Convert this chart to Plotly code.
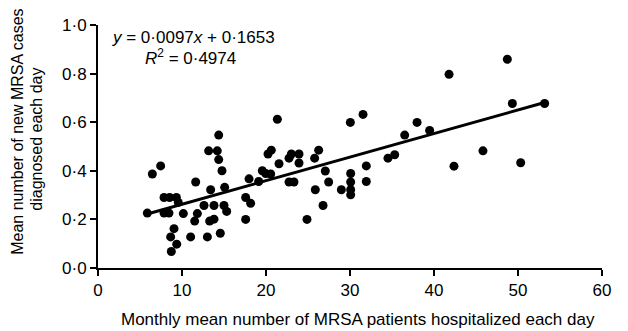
import plotly.graph_objects as go

# Monthly mean number of MRSA patients hospitalized each day
x_vals = [5.87, 6.47, 7.46, 7.86, 8.53, 9.33, 9.56, 7.86, 8.45, 10.16,
          11.63, 13.41, 15.08, 12.62, 13.81, 15.00, 15.32, 11.83, 11.51, 13.29,
          13.81, 9.05, 8.65, 9.37, 8.73, 11.03, 13.02, 14.56, 13.17, 14.20,
          14.37, 14.37, 14.76, 17.58, 18.17, 17.58, 17.98, 19.13, 19.56, 19.96,
          20.56, 20.24, 20.63, 21.55, 21.35, 22.74, 23.02, 23.93, 23.93, 22.74,
          23.33, 25.79, 26.27, 27.06, 27.46, 25.87, 26.79, 24.88, 28.97, 30.08,
          30.08, 30.08, 30.08, 30.04, 31.55, 31.94, 31.94, 34.52, 35.32, 36.51,
          37.98, 39.48, 41.79, 42.38, 45.83, 48.73, 49.33, 50.32, 53.17]
# Mean number of new MRSA cases diagnosed each day
y_vals = [0.226, 0.387, 0.420, 0.290, 0.290, 0.290, 0.270, 0.226, 0.226, 0.224,
          0.354, 0.322, 0.332, 0.257, 0.257, 0.257, 0.233, 0.224, 0.193, 0.193,
          0.201, 0.162, 0.128, 0.098, 0.068, 0.128, 0.128, 0.143, 0.482, 0.482,
          0.547, 0.446, 0.400, 0.290, 0.266, 0.200, 0.367, 0.356, 0.400, 0.389,
          0.387, 0.469, 0.485, 0.429, 0.612, 0.452, 0.469, 0.469, 0.432, 0.354,
          0.354, 0.452, 0.485, 0.399, 0.354, 0.322, 0.257, 0.200, 0.322, 0.389,
          0.354, 0.322, 0.301, 0.599, 0.632, 0.420, 0.356, 0.452, 0.466, 0.547,
          0.599, 0.566, 0.797, 0.419, 0.482, 0.859, 0.677, 0.433, 0.677]

slope = 0.0097
intercept = 0.1653
r_squared = 0.4974

x_ticks = [0, 10, 20, 30, 40, 50, 60]
y_ticks = [0.0, 0.2, 0.4, 0.6, 0.8, 1.0]
y_tick_labels = ["0·0", "0·2", "0·4", "0·6", "0·8", "1·0"]

line_x = [min(x_vals), max(x_vals)]
line_y = [slope * v + intercept for v in line_x]

FONT = "Liberation Sans, Arial, Helvetica, sans-serif"
FS = 17

fig = go.Figure()
fig.add_trace(go.Scatter(x=line_x, y=line_y, mode="lines",
                         line=dict(color="black", width=3), showlegend=False,
                         hoverinfo="skip"))
fig.add_trace(go.Scatter(x=x_vals, y=y_vals, mode="markers",
                         marker=dict(color="black", size=9), showlegend=False))

axis_common = dict(showgrid=False, zeroline=False, showline=True,
                   linecolor="black", linewidth=2, ticks="outside",
                   ticklen=6, tickwidth=2, tickcolor="black",
                   ticklabeloverflow="allow",
                   tickfont=dict(family=FONT, size=FS, color="black"))

fig.update_xaxes(range=[0, 60], tickvals=x_ticks,
                 ticktext=[str(t) for t in x_ticks], **axis_common)
fig.update_yaxes(range=[0, 1.0], tickvals=y_ticks, ticktext=y_tick_labels,
                 **axis_common)

eq_text = "<i>y</i> = 0·0097<i>x</i> + 0·1653"
r2_text = "<i>R</i><sup>2</sup> = 0·4974"

ann_font = dict(family=FONT, size=FS, color="black")
ytitle_font = dict(family=FONT, size=16, color="black")
# The page body has an 8 px margin, so the figure is 8 px smaller and
# its margins 8 px tighter on the left/top.
fig.update_layout(
    width=620, height=323,
    margin=dict(l=90, r=26, t=8, b=63),
    paper_bgcolor="white", plot_bgcolor="white",
    font=dict(family=FONT, size=FS, color="black"),
    annotations=[
        dict(text=eq_text, xref="paper", yref="paper", x=0.1885, y=0.948,
             xanchor="center", yanchor="middle", showarrow=False, font=ann_font),
        dict(text=r2_text, xref="paper", yref="paper", x=0.1845, y=0.868,
             xanchor="center", yanchor="middle", showarrow=False, font=ann_font),
        dict(text="Mean number of new MRSA cases", xref="paper", yref="paper",
             x=-0.159, y=0.56, xanchor="center", yanchor="middle",
             textangle=-90, showarrow=False, font=ytitle_font),
        dict(text="diagnosed each day", xref="paper", yref="paper",
             x=-0.121, y=0.528, xanchor="center", yanchor="middle",
             textangle=-90, showarrow=False, font=ytitle_font),
        dict(text="Monthly mean number of MRSA patients hospitalized each day",
             xref="paper", yref="paper", x=0.516, y=-0.21,
             xanchor="center", yanchor="middle", showarrow=False, font=ann_font),
    ],
)

fig.write_html("out.html")
